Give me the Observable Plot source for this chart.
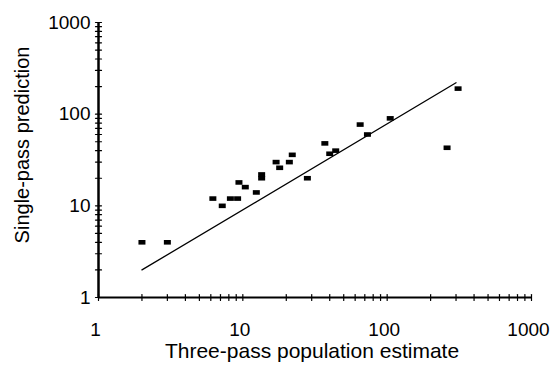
<!DOCTYPE html>
<html><head><meta charset="utf-8">
<script src="https://cdn.jsdelivr.net/npm/d3@7"></script>
<script src="https://cdn.jsdelivr.net/npm/@observablehq/plot@0.6"></script>
<style>body{margin:0;background:#fff;}</style>
</head><body><div id="chart"></div>
<script>
// Three-pass population estimate (x) vs single-pass prediction (y)
const estimate   = [2, 3, 6.2, 7.2, 8.2, 9.2, 9.4, 10.4, 12.4, 13.5, 13.5, 17, 18, 21, 22, 28, 37, 40, 44, 65, 73, 105, 260, 310];
const prediction = [4, 4, 12, 10, 12, 12, 18, 16, 14, 22, 20, 30, 26, 30, 36, 20, 48, 37, 40, 77, 60, 90, 43, 190];
// fitted line end points
const fitX = [2, 300];
const fitY = [2, 220];
const majorTicks = [1, 10, 100, 1000];
const minorTicks = [2, 3, 4, 5, 6, 7, 8, 9, 20, 30, 40, 50, 60, 70, 80, 90, 200, 300, 400, 500, 600, 700, 800, 900];
const xTitle = "Three-pass population estimate";
const yTitle = "Single-pass prediction";

const points = estimate.map((x, i) => ({x, y: prediction[i]}));
const fit = fitX.map((x, i) => ({x, y: fitY[i]}));
const allTicks = majorTicks.concat(minorTicks);
const tickShape = {draw(ctx, l) { ctx.moveTo(0, 0); ctx.lineTo(0, -l); }};
const box = {draw(ctx) { ctx.rect(-3.5, -2.3, 7, 4.6); }};

const chart = Plot.plot({
  width: 550, height: 370,
  marginLeft: 98, marginRight: 19, marginTop: 22, marginBottom: 73,
  style: {fontFamily: "'Liberation Sans', Arial, sans-serif", background: "#fff", color: "#000"},
  x: {type: "log", domain: [1, 1000]},
  y: {type: "log", domain: [1, 1000]},
  marks: [
    Plot.axisX({ticks: majorTicks, tickSize: 0, tickPadding: 25, tickFormat: d => String(d), fontSize: 19, label: null, dx: -3}),
    Plot.axisY({ticks: majorTicks, tickSize: 0, tickPadding: 8, tickFormat: d => String(d), fontSize: 19, label: null}),
    Plot.ruleY([majorTicks[0]], {stroke: "black", strokeWidth: 2}),
    Plot.ruleX([majorTicks[0]], {stroke: "black", strokeWidth: 2.5}),
    Plot.vector(allTicks, {x: d => d, frameAnchor: "bottom", length: 6, rotate: 0, anchor: "middle", shape: tickShape, stroke: "black", strokeWidth: 1.2}),
    Plot.vector(allTicks, {y: d => d, frameAnchor: "left", length: 6, rotate: 90, anchor: "middle", shape: tickShape, stroke: "black", strokeWidth: 1.2}),
    Plot.line(fit, {x: "x", y: "y", stroke: "black", strokeWidth: 1.3}),
    Plot.dot(points, {x: "x", y: "y", symbol: box, fill: "black", stroke: "none", r: 4}),
    Plot.text([xTitle], {text: d => d, frameAnchor: "bottom", textAnchor: "middle", lineAnchor: "middle", dx: -3, dy: 54, fontSize: 21, fill: "black"}),
    Plot.text([yTitle], {text: d => d, frameAnchor: "left", textAnchor: "middle", lineAnchor: "middle", rotate: -90, dx: -76, dy: -15, fontSize: 20, fill: "black"})
  ]
});
document.getElementById("chart").appendChild(chart);
</script>
</body></html>
